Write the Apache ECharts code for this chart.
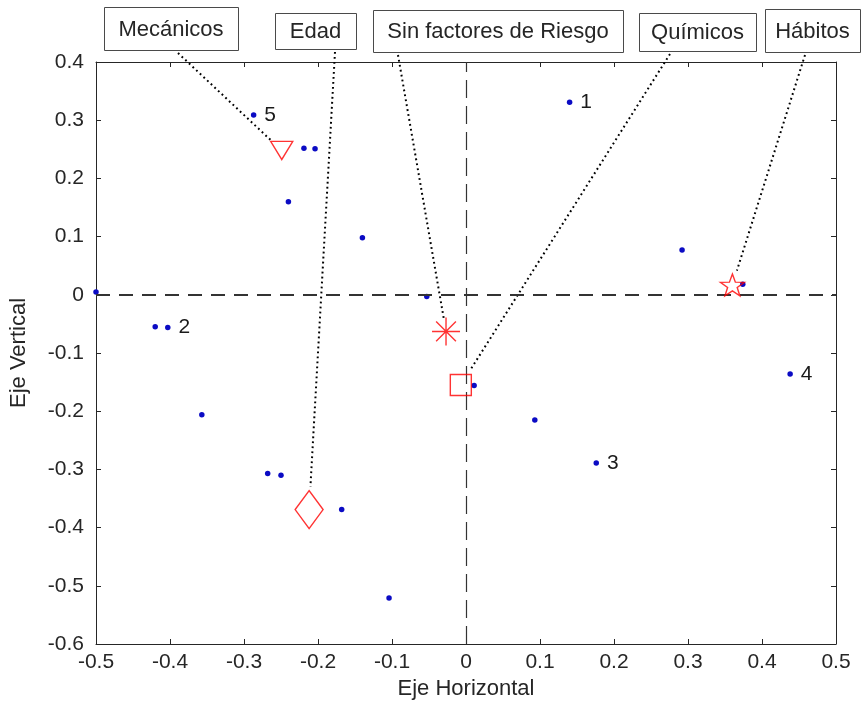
<!DOCTYPE html>
<html><head><meta charset="utf-8">
<script src="https://cdn.jsdelivr.net/npm/echarts@6/dist/echarts.min.js"></script>
<style>html,body{margin:0;padding:0;background:#fff}#c{width:865px;height:717px}</style>
</head><body><div id="c"></div>
<script>
// ---- data ----
const pointX = [0.140, -0.287, -0.219, -0.204, -0.240, -0.140, -0.500, -0.053, -0.420, -0.403, -0.357, 0.011, 0.093, 0.176, 0.292, 0.374, 0.438, -0.268, -0.250, -0.168, -0.104];
const pointY = [0.331, 0.309, 0.252, 0.251, 0.160, 0.098, 0.005, -0.003, -0.055, -0.056, -0.206, -0.156, -0.215, -0.289, 0.077, 0.018, -0.136, -0.307, -0.310, -0.369, -0.521];
const pointLabels = ['1', '5', '', '', '', '', '', '', '', '2', '', '', '', '3', '', '', '4', '', '', '', ''];
const groupNames = ['Mecánicos', 'Edad', 'Sin factores de Riesgo', 'Químicos', 'Hábitos'];
const groupX = [-0.249, -0.212, -0.027, -0.007, 0.360];
const groupY = [0.248, -0.369, -0.063, -0.155, 0.017];
const xTickMin = -0.5, xTickMax = 0.5, yTickMin = -0.6, yTickMax = 0.4, tickStep = 0.1;
const xName = 'Eje Horizontal', yName = 'Eje Vertical';

// ---- layout / style ----
const FONT = '"Liberation Sans", Arial, sans-serif';
const TXT = '#262626';
const RED = '#ff0000';
const STAR = 'path://M0,-10L2.35,-3.24L9.51,-3.09L3.8,1.24L5.88,8.09L0,4L-5.88,8.09L-3.8,1.24L-9.51,-3.09L-2.35,-3.24Z';
const ASTER = 'path://M0,-10L0,10M-10,0L10,0M-7.07,-7.07L7.07,7.07M-7.07,7.07L7.07,-7.07';
const groupSymbols = [
  {symbol: 'triangle', symbolSize: [22, 18], symbolRotate: 180},
  {symbol: 'diamond', symbolSize: [28, 38]},
  {symbol: ASTER, symbolSize: [28, 28]},
  {symbol: 'rect', symbolSize: [21, 21]},
  {symbol: STAR, symbolSize: [24, 23], symbolKeepAspect: true}
];
const boxLayout = [
  {x: 104, y: 7, w: 134, h: 43, ax: 178, gap: 14},
  {x: 275, y: 13, w: 81, h: 36, ax: 335, gap: 23},
  {x: 373, y: 10, w: 250, h: 42, ax: 398, gap: 12},
  {x: 639, y: 13, w: 117, h: 38, ax: 670, gap: 18},
  {x: 765, y: 9, w: 95, h: 43, ax: 805, gap: 15}
];

const chart = echarts.init(document.getElementById('c'), null, {renderer: 'canvas'});

const axisCommon = {
  type: 'value', interval: tickStep,
  axisLine: {show: true, onZero: false, lineStyle: {color: TXT, width: 1}},
  axisTick: {show: true, inside: true, length: 5, lineStyle: {color: TXT, width: 1}},
  splitLine: {show: false}
};

const option = {
  backgroundColor: '#fff',
  animation: false,
  grid: {left: 96, right: 29, top: 62, bottom: 73, containLabel: false, outerBoundsMode: 'none'},
  xAxis: [
    Object.assign({}, axisCommon, {
      position: 'bottom', min: xTickMin, max: xTickMax,
      axisLabel: {fontSize: 21, fontFamily: FONT, color: TXT, margin: 8},
      name: xName, nameLocation: 'middle', nameGap: 33,
      nameTextStyle: {fontSize: 22, fontFamily: FONT, color: TXT}
    }),
    Object.assign({}, axisCommon, {
      position: 'top', min: xTickMin, max: xTickMax, axisLabel: {show: false}
    })
  ],
  yAxis: [
    Object.assign({}, axisCommon, {
      position: 'left', min: yTickMin, max: yTickMax,
      axisLabel: {fontSize: 21, fontFamily: FONT, color: TXT, margin: 12},
      name: yName, nameLocation: 'middle', nameGap: 66,
      nameTextStyle: {fontSize: 22, fontFamily: FONT, color: TXT}
    }),
    Object.assign({}, axisCommon, {
      position: 'right', min: yTickMin, max: yTickMax, axisLabel: {show: false}
    })
  ],
  series: [
    {
      type: 'scatter', xAxisIndex: 0, yAxisIndex: 0, z: 3,
      symbol: 'circle', symbolSize: 5.5,
      itemStyle: {color: '#0b0bc4', opacity: 1},
      data: pointX.map((x, i) => [x, pointY[i]]),
      label: {
        show: true, position: 'right', distance: 8,
        formatter: p => pointLabels[p.dataIndex],
        fontSize: 21, fontFamily: FONT, color: '#1a1a1a', opacity: 1
      },
      emphasis: {disabled: true},
      markLine: {
        silent: true, symbol: 'none', label: {show: false},
        data: [
          {yAxis: 0, lineStyle: {type: [14, 9], width: 2, color: '#333'}},
          {xAxis: 0, lineStyle: {type: [18, 8], width: 1.2, color: '#333'}}
        ]
      }
    },
    {
      type: 'custom', xAxisIndex: 0, yAxisIndex: 0, z: 4, clip: false,
      data: groupX.map((x, i) => [x, groupY[i]]),
      encode: {x: 0, y: 1},
      renderItem: function (params, api) {
        const i = params.dataIndex;
        const b = boxLayout[i];
        const p = api.coord([api.value(0), api.value(1)]);
        const ax = b.ax, ay = b.y + b.h + 3;
        const dx = p[0] - ax, dy = p[1] - ay;
        const len = Math.hypot(dx, dy);
        const t = (len - b.gap) / len;
        return {
          type: 'group',
          children: [
            {type: 'line', shape: {x1: ax, y1: ay, x2: ax + dx * t, y2: ay + dy * t},
             style: {stroke: '#000', lineWidth: 2, lineDash: [1.8, 3.2]}},
            {type: 'rect', shape: {x: b.x + 0.5, y: b.y + 0.5, width: b.w, height: b.h},
             style: {fill: '#fff', stroke: '#4a4a4a', lineWidth: 1}},
            {type: 'text', style: {text: groupNames[i], x: b.x + b.w / 2, y: b.y + b.h / 2 + 1,
              align: 'center', verticalAlign: 'middle', fontSize: 22, fontFamily: FONT, fill: TXT}}
          ]
        };
      }
    },
    {
      type: 'scatter', xAxisIndex: 0, yAxisIndex: 0, z: 5,
      itemStyle: {color: 'rgba(0,0,0,0)', borderColor: RED, borderWidth: 1.4},
      emphasis: {disabled: true},
      data: groupX.map((x, i) => Object.assign({value: [x, groupY[i]], name: groupNames[i]}, groupSymbols[i]))
    }
  ]
};
chart.setOption(option);
</script>
</body></html>
